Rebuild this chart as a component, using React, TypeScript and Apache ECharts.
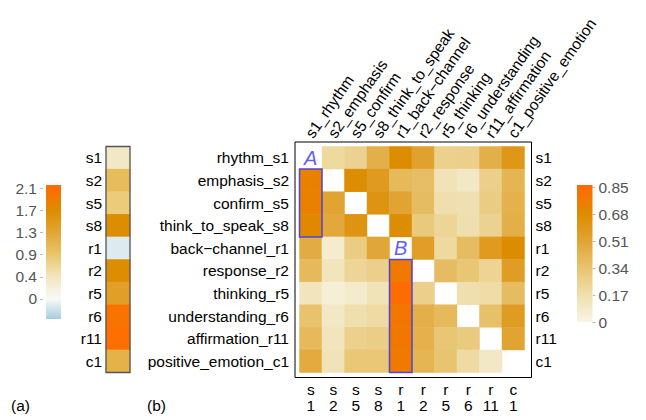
import React, { useEffect, useRef } from "react";
import * as echarts from "echarts";

// ---------- data ----------
const rowLabels = [
  "rhythm_s1",
  "emphasis_s2",
  "confirm_s5",
  "think_to_speak_s8",
  "back\u2212channel_r1",
  "response_r2",
  "thinking_r5",
  "understanding_r6",
  "affirmation_r11",
  "positive_emotion_c1",
];
const colLabels = [
  "s1_rhythm",
  "s2_emphasis",
  "s5_confirm",
  "s8_think_to_speak",
  "r1_back\u2212channel",
  "r2_response",
  "r5_thinking",
  "r6_understanding",
  "r11_affirmation",
  "c1_positive_emotion",
];
const codes = ["s1", "s2", "s5", "s8", "r1", "r2", "r5", "r6", "r11", "c1"];
const codeLetters = ["s", "s", "s", "s", "r", "r", "r", "r", "r", "c"];
const codeNumbers = ["1", "2", "5", "8", "1", "2", "5", "6", "11", "1"];

// rows = rowLabels, columns = colLabels ; null = diagonal (blank)
const matrix: (number | null)[][] = [
  [null, 0.21, 0.25, 0.45, 0.68, 0.53, 0.26, 0.27, 0.45, 0.6],
  [0.74, null, 0.67, 0.58, 0.4, 0.37, 0.14, 0.1, 0.27, 0.42],
  [0.74, 0.52, null, 0.62, 0.52, 0.38, 0.17, 0.16, 0.29, 0.44],
  [0.7, 0.49, 0.62, null, 0.67, 0.31, 0.23, 0.17, 0.25, 0.45],
  [0.47, 0.07, 0.29, 0.5, null, 0.55, 0.21, 0.38, 0.58, 0.68],
  [0.4, 0.13, 0.23, 0.27, 0.775, null, 0.38, 0.33, 0.24, 0.56],
  [0.12, 0.05, 0.08, 0.14, 0.84, 0.27, null, 0.17, 0.19, 0.38],
  [0.35, 0.1, 0.17, 0.2, 0.79, 0.45, 0.4, null, 0.36, 0.57],
  [0.4, 0.12, 0.26, 0.28, 0.785, 0.44, 0.33, 0.3, null, 0.52],
  [0.48, 0.14, 0.32, 0.32, 0.775, 0.42, 0.34, 0.2, 0.1, null],
];

const columnValues = [0.38, 0.99, 0.78, 1.7, -0.145, 1.7, 1.4, 2.05, 2.1, 1.13];

const mainTicks = [0, 0.17, 0.34, 0.51, 0.68, 0.85];
const leftTicks = [0, 0.428, 0.856, 1.284, 1.712, 2.14];

const mainStops: [number, string][] = [
  [0, "#f8f5e6"],
  [0.17, "#f0dfae"],
  [0.34, "#e8c470"],
  [0.51, "#e1a434"],
  [0.68, "#dd8c00"],
  [0.85, "#ff6a00"],
];
const leftStops: [number, string][] = [
  [-0.428, "#a6cce0"],
  [0, "#f9f9f7"],
  [0.428, "#f2e6c0"],
  [0.856, "#e9c66c"],
  [1.284, "#e2a636"],
  [1.712, "#dd8c00"],
  [2.14, "#ff6c00"],
];

const annotations = [
  { label: "A", col: 0, row: 0, boxCol: 0, boxRowStart: 1, boxRowEnd: 3 },
  { label: "B", col: 4, row: 4, boxCol: 4, boxRowStart: 5, boxRowEnd: 9 },
];

// ---------- layout ----------
const FONT = "'Liberation Sans', Arial, Helvetica, sans-serif";
const FS = 15.5;
const MAIN = { left: 299.5, top: 146.5, width: 225, height: 226 };
const FRAME = { x: 295, y: 142, width: 236.5, height: 235.5 };
const LEFTCOL = { left: 106, top: 146.5, width: 24, height: 226 };
const CBL = { left: 46, top: 185, width: 15, height: 134, min: -0.387, max: 2.204 };
const CBR = { left: 577, top: 185, width: 15.5, height: 137, min: 0, max: 0.865 };
const TOP_ROT = 55;

function gradient(stops: [number, string][], min: number, max: number) {
  return new echarts.graphic.LinearGradient(
    0,
    1,
    0,
    0,
    stops.map(([v, c]) => ({
      offset: Math.min(1, Math.max(0, (v - min) / (max - min))),
      color: c,
    }))
  );
}

export default function App() {
  const ref = useRef<HTMLDivElement>(null);

  useEffect(() => {
    if (!ref.current) return;
    const chart = echarts.init(ref.current, null, { renderer: "svg" });

    const heatData: any[] = [];
    matrix.forEach((row, r) =>
      row.forEach((v, c) => {
        if (v !== null) heatData.push([c, r, v]);
      })
    );
    const colData = columnValues.map((v, i) => [0, i, v]);

    const gridBase = { outerBoundsMode: "none", containLabel: false } as any;
    const blackLabel = { color: "#000", fontSize: FS, fontFamily: FONT };
    const grayLabel = { color: "#555", fontSize: FS, fontFamily: FONT };
    const bottomOffset = FRAME.y + FRAME.height - (MAIN.top + MAIN.height);

    chart.setOption({
      animation: false,
      backgroundColor: "#fff",
      grid: [
        { ...gridBase, ...MAIN },
        { ...gridBase, ...LEFTCOL },
        { ...gridBase, left: CBL.left, top: CBL.top, width: CBL.width, height: CBL.height },
        { ...gridBase, left: CBR.left, top: CBR.top, width: CBR.width, height: CBR.height },
      ],
      xAxis: [
        {
          type: "category",
          gridIndex: 0,
          position: "top",
          data: colLabels,
          offset: MAIN.top - FRAME.y,
          axisLine: { show: false },
          axisTick: { inside: true, length: 3.5, alignWithLabel: true, lineStyle: { color: "#000" } },
          axisLabel: { show: false },
          splitLine: { show: false },
        },
        {
          type: "category",
          gridIndex: 0,
          position: "bottom",
          data: codeLetters,
          offset: bottomOffset,
          axisLine: { show: false },
          axisTick: { inside: true, length: 4, alignWithLabel: true, lineStyle: { color: "#000" } },
          axisLabel: { ...blackLabel, interval: 0, margin: 4 },
          splitLine: { show: false },
        },
        { type: "category", gridIndex: 1, data: ["v"], show: false },
        { type: "category", gridIndex: 2, data: ["c"], show: false },
        { type: "category", gridIndex: 3, data: ["c"], show: false },
        {
          type: "category",
          gridIndex: 0,
          position: "bottom",
          data: codeNumbers,
          offset: bottomOffset + 15.5,
          axisLine: { show: false },
          axisTick: { show: false },
          axisLabel: { ...blackLabel, interval: 0, margin: 4 },
          splitLine: { show: false },
        },
      ],
      yAxis: [
        {
          type: "category",
          gridIndex: 0,
          position: "left",
          inverse: true,
          data: rowLabels,
          offset: MAIN.left - FRAME.x,
          axisLine: { show: false },
          axisTick: { inside: false, length: 4, alignWithLabel: true, lineStyle: { color: "#000" } },
          axisLabel: { ...blackLabel, interval: 0, margin: 6 },
          splitLine: { show: false },
        },
        {
          type: "category",
          gridIndex: 0,
          position: "right",
          inverse: true,
          data: codes,
          offset: FRAME.x + FRAME.width - (MAIN.left + MAIN.width),
          axisLine: { show: false },
          axisTick: { inside: false, length: 3, alignWithLabel: true, lineStyle: { color: "#000" } },
          axisLabel: { ...blackLabel, interval: 0, margin: 4 },
          splitLine: { show: false },
        },
        {
          type: "category",
          gridIndex: 1,
          position: "left",
          inverse: true,
          data: codes,
          axisLine: { show: false },
          axisTick: { inside: false, length: 3, alignWithLabel: true, lineStyle: { color: "#000" } },
          axisLabel: { ...blackLabel, interval: 0, margin: 4 },
          splitLine: { show: false },
        },
        {
          type: "value",
          gridIndex: 2,
          position: "left",
          min: CBL.min,
          max: CBL.max,
          offset: 3,
          axisLine: { show: false },
          axisTick: { show: true, length: 3, customValues: leftTicks, lineStyle: { color: "#bbb" } },
          axisLabel: {
            ...grayLabel,
            margin: 6,
            customValues: leftTicks,
            formatter: (v: number) => (v === 0 ? "0" : v.toFixed(1)),
          },
          splitLine: { show: false },
        },
        {
          type: "value",
          gridIndex: 3,
          position: "right",
          min: CBR.min,
          max: CBR.max,
          axisLine: { show: false },
          axisTick: { show: true, length: 3, customValues: mainTicks, lineStyle: { color: "#bbb" } },
          axisLabel: {
            ...grayLabel,
            margin: 6,
            customValues: mainTicks,
            formatter: (v: number) => (v === 0 ? "0" : v.toFixed(2)),
          },
          splitLine: { show: false },
        },
      ],
      visualMap: [
        {
          type: "continuous",
          show: false,
          seriesIndex: 0,
          min: mainStops[0][0],
          max: mainStops[mainStops.length - 1][0],
          inRange: { color: mainStops.map((s) => s[1]) },
        },
        {
          type: "continuous",
          show: false,
          seriesIndex: 1,
          min: leftStops[0][0],
          max: leftStops[leftStops.length - 1][0],
          inRange: { color: leftStops.map((s) => s[1]) },
        },
      ],
      series: [
        {
          type: "heatmap",
          xAxisIndex: 0,
          yAxisIndex: 0,
          data: heatData,
          emphasis: { disabled: true },
          itemStyle: { borderWidth: 0 },
        },
        {
          type: "heatmap",
          xAxisIndex: 2,
          yAxisIndex: 2,
          data: colData,
          emphasis: { disabled: true },
          itemStyle: { borderWidth: 0 },
        },
        {
          type: "scatter",
          xAxisIndex: 0,
          yAxisIndex: 0,
          symbolSize: 0,
          silent: true,
          z: 10,
          data: annotations.map((a) => ({ name: a.label, value: [a.col, a.row] })),
          label: {
            show: true,
            position: "inside",
            formatter: (p: any) => p.name,
            fontFamily: FONT,
            fontStyle: "italic",
            fontSize: 20,
            color: "#3434f2",
          },
        },
      ],
    });

    const cellW = MAIN.width / colLabels.length;
    const cellH = MAIN.height / rowLabels.length;
    const boxes = annotations.map((a) => {
      const p1 = chart.convertToPixel({ seriesIndex: 0 }, [a.boxCol, a.boxRowStart]) as number[];
      const p2 = chart.convertToPixel({ seriesIndex: 0 }, [a.boxCol, a.boxRowEnd]) as number[];
      return {
        type: "rect",
        z: 20,
        shape: { x: p1[0] - cellW / 2, y: p1[1] - cellH / 2, width: cellW, height: p2[1] - p1[1] + cellH },
        style: { fill: "none", stroke: "#3b3bf0", lineWidth: 1.5, opacity: 0.9 },
      };
    });

    // rotated column labels on top, starting at each column's tick
    const rad = (TOP_ROT * Math.PI) / 180;
    const topLabels = colLabels.map((lab, i) => {
      const p = chart.convertToPixel({ seriesIndex: 0 }, [i, 0]) as number[];
      return {
        type: "text",
        z: 20,
        x: p[0] - 2,
        y: FRAME.y - 6,
        rotation: rad,
        style: {
          text: lab,
          fontSize: FS,
          fontFamily: FONT,
          fill: "#000",
          align: "left",
          verticalAlign: "middle",
        },
      };
    });

    chart.setOption({
      graphic: {
        elements: [
          {
            type: "rect",
            z: 20,
            shape: { ...FRAME },
            style: { fill: "none", stroke: "#000", lineWidth: 1 },
          },
          {
            type: "rect",
            z: 20,
            shape: { x: LEFTCOL.left, y: LEFTCOL.top, width: LEFTCOL.width, height: LEFTCOL.height },
            style: { fill: "none", stroke: "#555", lineWidth: 1.3 },
          },
          {
            type: "rect",
            z: 5,
            shape: { x: CBL.left, y: CBL.top, width: CBL.width, height: CBL.height },
            style: { fill: gradient(leftStops, CBL.min, CBL.max) },
          },
          {
            type: "rect",
            z: 5,
            shape: { x: CBR.left, y: CBR.top, width: CBR.width, height: CBR.height },
            style: { fill: gradient(mainStops, CBR.min, CBR.max) },
          },
          ...boxes,
          ...topLabels,
          {
            type: "text",
            left: 11,
            top: 397,
            style: { text: "(a)", fontSize: FS, fontFamily: FONT, fill: "#000" },
          },
          {
            type: "text",
            left: 147,
            top: 397,
            style: { text: "(b)", fontSize: FS, fontFamily: FONT, fill: "#000" },
          },
        ],
      },
    });

    return () => chart.dispose();
  }, []);

  return <div ref={ref} style={{ width: 646, height: 420, position: "absolute", left: 0, top: 0 }} />;
}
